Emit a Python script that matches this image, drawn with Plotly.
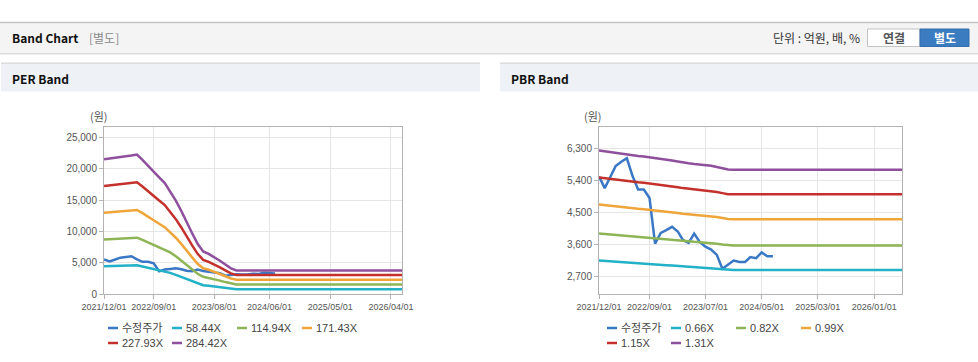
import plotly.graph_objects as go

W, H = 978, 362

# ---------------- data ----------------
band_dates = ["2021-12-01", "2022-01-01", "2022-02-01", "2022-03-01", "2022-04-01",
              "2022-05-01", "2022-06-01", "2022-07-01", "2022-08-01", "2022-09-01",
              "2022-10-01", "2022-11-01", "2022-12-01", "2023-01-01", "2023-02-01",
              "2023-03-01", "2023-04-01", "2023-05-01", "2023-06-01", "2023-07-01",
              "2023-08-01", "2023-09-01", "2023-10-01", "2023-11-01", "2023-12-01",
              "2026-06-01"]

price_dates = ["2021-12-01", "2022-01-01", "2022-02-01", "2022-03-01", "2022-04-01",
               "2022-05-01", "2022-06-01", "2022-07-01", "2022-08-01", "2022-09-01",
               "2022-10-01", "2022-11-01", "2022-12-01", "2023-01-01", "2023-02-01",
               "2023-03-01", "2023-04-01", "2023-05-01", "2023-06-01", "2023-07-01",
               "2023-08-01", "2023-09-01", "2023-10-01", "2023-11-01", "2023-12-01",
               "2024-01-01", "2024-02-01", "2024-03-01", "2024-04-01", "2024-05-01",
               "2024-06-01", "2024-07-01"]

price = [5510, 5180, 5500, 5800, 5920, 6020, 5520, 5140, 5140, 4900,
         3620, 3920, 4000, 4090, 3960, 3720, 3640, 3900, 3660, 3530,
         3450, 3300, 2910, 3030, 3140, 3100, 3100, 3240, 3210, 3370,
         3260, 3260]

per_labels = ["58.44X", "114.94X", "171.43X", "227.93X", "284.42X"]
per_58 = [4420, 4450, 4480, 4500, 4520, 4540, 4570, 4400, 4190, 4010, 3820, 3640, 3370,
          3060, 2710, 2340, 1990, 1640, 1400, 1320, 1210, 1090, 970, 840, 770, 770]
per_115 = [8690, 8750, 8810, 8850, 8890, 8930, 8990, 8650, 8240, 7880, 7520, 7150, 6630,
           6020, 5330, 4610, 3920, 3230, 2750, 2590, 2380, 2140, 1900, 1660, 1520, 1520]
per_171 = [12960, 13050, 13140, 13200, 13260, 13320, 13410, 12900, 12300, 11750, 11210,
           10670, 9880, 8980, 7960, 6870, 5850, 4820, 4100, 3860, 3560, 3190, 2830, 2470,
           2270, 2270]
per_228 = [17230, 17350, 17470, 17550, 17630, 17710, 17830, 17150, 16350, 15630, 14910,
           14190, 13140, 11940, 10580, 9140, 7770, 6410, 5450, 5130, 4730, 4250, 3770, 3290,
           3020, 3020]
per_284 = [21500, 21650, 21800, 21900, 22000, 22100, 22250, 21400, 20400, 19500, 18600,
           17700, 16400, 14900, 13200, 11400, 9700, 8000, 6800, 6400, 5900, 5300, 4700, 4100,
           3770, 3770]

pbr_labels = ["0.66X", "0.82X", "0.99X", "1.15X", "1.31X"]
pbr_066 = [3144, 3131, 3118, 3106, 3098, 3088, 3078, 3066, 3058, 3048, 3033, 3020, 3010,
           3000, 2988, 2972, 2962, 2952, 2945, 2937, 2927, 2909, 2892, 2874, 2872, 2872]
pbr_082 = [3906, 3891, 3875, 3859, 3850, 3837, 3825, 3809, 3800, 3787, 3769, 3753, 3740,
           3728, 3712, 3693, 3681, 3668, 3659, 3650, 3637, 3615, 3593, 3571, 3568, 3568]
pbr_099 = [4716, 4697, 4678, 4659, 4648, 4632, 4617, 4598, 4587, 4572, 4549, 4530, 4515,
           4500, 4481, 4459, 4444, 4428, 4417, 4406, 4391, 4364, 4338, 4311, 4307, 4307]
pbr_115 = [5478, 5456, 5434, 5412, 5399, 5382, 5364, 5342, 5329, 5311, 5285, 5263, 5245,
           5228, 5206, 5180, 5162, 5145, 5131, 5118, 5101, 5070, 5039, 5008, 5004, 5004]
pbr_131 = [6240, 6215, 6190, 6165, 6150, 6130, 6110, 6085, 6070, 6050, 6020, 5995, 5975,
           5955, 5930, 5900, 5880, 5860, 5845, 5830, 5810, 5775, 5740, 5705, 5700, 5700]

per_ticks = [0, 5000, 10000, 15000, 20000, 25000]
pbr_ticks = [2700, 3600, 4500, 5400, 6300]
per_xticks = ["2021-12-01", "2022-09-01", "2023-08-01", "2024-06-01", "2025-05-01", "2026-04-01"]
pbr_xticks = ["2021-12-01", "2022-09-01", "2023-07-01", "2024-05-01", "2025-03-01", "2026-01-01"]
price_label = "수정주가"

colors = ["#3a78c6", "#22b1c6", "#8db556", "#f0a53a", "#c4302b", "#8e4f9c"]

# ---------------- helpers ----------------
def X(px):
    return px / W

def Y(py):
    return 1 - py / H

FONT = "Liberation Sans, Arial, Noto Sans CJK KR, sans-serif"
KFONT = "Noto Sans CJK KR, Liberation Sans, sans-serif"

fig = go.Figure()

per_series = [per_58, per_115, per_171, per_228, per_284]
pbr_series = [pbr_066, pbr_082, pbr_099, pbr_115, pbr_131]

fig.add_trace(go.Scatter(x=price_dates, y=price, mode="lines", name=price_label,
                         line=dict(color=colors[0], width=2.5), xaxis="x", yaxis="y",
                         showlegend=False))
for i, s in enumerate(per_series):
    fig.add_trace(go.Scatter(x=band_dates, y=s, mode="lines", name=per_labels[i],
                             line=dict(color=colors[i + 1], width=2.5), xaxis="x", yaxis="y",
                             showlegend=False))

fig.add_trace(go.Scatter(x=price_dates, y=price, mode="lines", name=price_label,
                         line=dict(color=colors[0], width=2.5), xaxis="x2", yaxis="y2",
                         showlegend=False))
for i, s in enumerate(pbr_series):
    fig.add_trace(go.Scatter(x=band_dates, y=s, mode="lines", name=pbr_labels[i],
                             line=dict(color=colors[i + 1], width=2.5), xaxis="x2", yaxis="y2",
                             showlegend=False))

axis_common = dict(showgrid=True, gridcolor="#e6e6e6", gridwidth=1, showline=True,
                   linecolor="#b3b3b3", linewidth=1, mirror=True, ticks="outside",
                   ticklen=4, tickcolor="#b3b3b3", zeroline=False, automargin=False)
xfont = dict(family=FONT, size=9, color="#555555")
yfont = dict(family=FONT, size=10, color="#555555")

ydom = [Y(294), Y(127)]
fig.update_layout(
    width=W, height=H, margin=dict(l=0, r=0, t=0, b=0, pad=0, autoexpand=False),
    autosize=False,
    paper_bgcolor="white", plot_bgcolor="white", showlegend=False,
    xaxis=dict(domain=[X(104), X(402)], type="date", range=["2021-12-01", "2026-06-01"],
               tickvals=per_xticks, ticktext=[d.replace("-", "/") for d in per_xticks],
               tickangle=0, anchor="y", tickfont=xfont, **axis_common),
    yaxis=dict(domain=ydom, range=[0, 26650], tickvals=per_ticks, tickformat=",d",
               anchor="x", tickfont=yfont, **axis_common),
    xaxis2=dict(domain=[X(599), X(902)], type="date", range=["2021-12-01", "2026-06-01"],
                tickvals=pbr_xticks, ticktext=[d.replace("-", "/") for d in pbr_xticks],
                tickangle=0, anchor="y2", tickfont=xfont, **axis_common),
    yaxis2=dict(domain=ydom, range=[2200, 6900], tickvals=pbr_ticks, tickformat=",d",
                anchor="x2", tickfont=yfont, **axis_common),
)

shapes = []
ann = []

def rect(x0, y0, x1, y1, fill, line=None, lw=0):
    shapes.append(dict(type="rect", xref="paper", yref="paper", x0=X(x0), x1=X(x1),
                       y0=Y(y1), y1=Y(y0), fillcolor=fill,
                       line=dict(color=line or fill, width=lw), layer="below"))

def hline(x0, x1, y, color, w=1):
    shapes.append(dict(type="line", xref="paper", yref="paper", x0=X(x0), x1=X(x1),
                       y0=Y(y), y1=Y(y), line=dict(color=color, width=w)))

def text(x, y, s, size=12, color="#333", anchor="left", family=KFONT):
    ann.append(dict(xref="paper", yref="paper", x=X(x), y=Y(y), text=s, showarrow=False,
                    xanchor=anchor, yanchor="middle", font=dict(family=family, size=size,
                                                                color=color)))

# top header bar
rect(0, 22, 978, 53, "#f4f4f4")
hline(0, 978, 22.5, "#c4c4c4", 1.5)
hline(0, 978, 53.5, "#dcdcdc", 1)
hline(0, 978, 54.5, "#eeeeee", 1)
text(10, 38, "<b>Band Chart</b>", 12, "#111")
text(87, 38, "[별도]", 12, "#8a8a8a")
text(862, 38, "단위 : 억원, 배, %", 12, "#333", anchor="right")
rect(867.5, 29, 920, 46.5, "#ffffff", "#c3c3c3", 1)
rect(920, 29, 969, 46.5, "#3b7bbf", "#356fae", 1)
text(893.5, 38, "<b>연결</b>", 12, "#555", anchor="center")
text(944.5, 38, "<b>별도</b>", 12, "#ffffff", anchor="center")

# panel headers
rect(1, 63, 480, 91.5, "#eef2f7")
hline(1, 480, 63.2, "#d6d6d6", 1.2)
text(10, 78, "<b>PER Band</b>", 12, "#111")
rect(500, 63, 978, 91.5, "#eef2f7")
hline(500, 978, 63.2, "#d6d6d6", 1.2)
text(509, 78, "<b>PBR Band</b>", 12, "#111")

# unit labels
text(110, 116, "(원)", 11, "#555", anchor="right")
text(604, 116, "(원)", 11, "#555", anchor="right")

# legends
def legend(xs, names):
    pos = [(xs[0], 328), (xs[1], 328), (xs[2], 328), (xs[3], 328), (xs[0], 343), (xs[1], 343)]
    for i, (lx, ly) in enumerate(pos):
        hline(lx, lx + 10, ly, colors[i], 2.5)
        text(lx + 12, ly, names[i], 11, "#444", family=FONT)

legend([108, 172, 237, 302], [price_label] + per_labels)
legend([607, 671, 736, 801], [price_label] + pbr_labels)

fig.update_layout(shapes=shapes, annotations=ann)
fig.write_html("out.html", config={"displayModeBar": False},
               post_script="document.body.style.margin='0';document.body.style.overflow='hidden';")
